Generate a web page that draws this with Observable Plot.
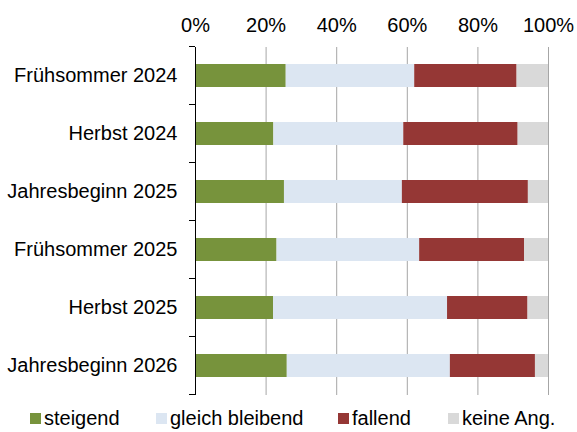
<!DOCTYPE html>
<html><head><meta charset="utf-8">
<script src="https://cdn.jsdelivr.net/npm/d3@7"></script>
<script src="https://cdn.jsdelivr.net/npm/@observablehq/plot@0.6"></script>
<style>
body{margin:0;background:#fff;font-family:"Liberation Sans",Arial,sans-serif;}
#legend{position:relative;width:577px;height:32px;font-size:20px;color:#000;}
.item{position:absolute;top:8px;display:flex;align-items:center;line-height:20px;white-space:nowrap;}
.sw{width:11px;height:11px;margin-right:3px;}
</style></head><body><div id="chart"></div><div id="legend"></div>
<script>
const categories = ["Frühsommer 2024","Herbst 2024","Jahresbeginn 2025","Frühsommer 2025","Herbst 2025","Jahresbeginn 2026"];
const series = ["steigend","gleich bleibend","fallend","keine Ang."];
const steigend = [25.7, 22.2, 25.2, 23.1, 22.1, 26.0];
const gleich   = [36.4, 36.8, 33.4, 40.4, 49.3, 46.2];
const fallend  = [29.0, 32.4, 35.7, 29.7, 22.8, 24.1];
const keine    = [8.9, 8.6, 5.7, 6.8, 5.8, 3.7];
const colors = ["#77933C","#DCE6F2","#953735","#D9D9D9"];
const xTicks = [0,20,40,60,80,100];
const legendLeft = [30,156,338,448];

const data = [];
categories.forEach((c,i)=>{
  [steigend,gleich,fallend,keine].forEach((arr,j)=>data.push({cat:c, series:series[j], value:arr[i]}));
});

const plot = Plot.plot({
  width:577, height:400, marginTop:47, marginBottom:5, marginLeft:195, marginRight:29,
  style:{fontFamily:"Liberation Sans, Arial, sans-serif", fontSize:"20px", color:"#000", background:"#fff", overflow:"visible"},
  x:{domain:[0,100], axis:"top", ticks:xTicks, tickFormat:d=>d+"%", tickSize:0, tickPadding:16, label:null},
  y:{domain:categories, paddingInner:0.598, paddingOuter:0.299, tickSize:0, tickPadding:18, label:null},
  color:{domain:series, range:colors},
  marks:[
    Plot.ruleX(xTicks.slice(1), {stroke:"#a6a6a6", strokeWidth:1}),
    Plot.barX(data, {x:"value", y:"cat", fill:"series"}),
    Plot.ruleX([0], {stroke:"#000", strokeWidth:1})
  ]
});
document.getElementById("chart").appendChild(plot);

// y tick marks at category boundaries (Excel style)
const ys = plot.scale("y"), xs = plot.scale("x");
const gap = (ys.step - ys.bandwidth)/2;
const bounds = categories.map(c=>ys.apply(c)-gap);
bounds.push(ys.apply(categories[categories.length-1]) - gap + ys.step);
const x0 = xs.apply(0);
d3.select(plot).append("g").selectAll("line").data(bounds).join("line")
  .attr("x1", x0-6).attr("x2", x0).attr("y1", d=>d).attr("y2", d=>d)
  .attr("stroke","#000").attr("stroke-width",1);

const leg = d3.select("#legend");
series.forEach((s,i)=>{
  const it = leg.append("div").attr("class","item").style("left", legendLeft[i]+"px");
  it.append("div").attr("class","sw").style("background", colors[i]);
  it.append("span").text(s);
});
</script></body></html>
